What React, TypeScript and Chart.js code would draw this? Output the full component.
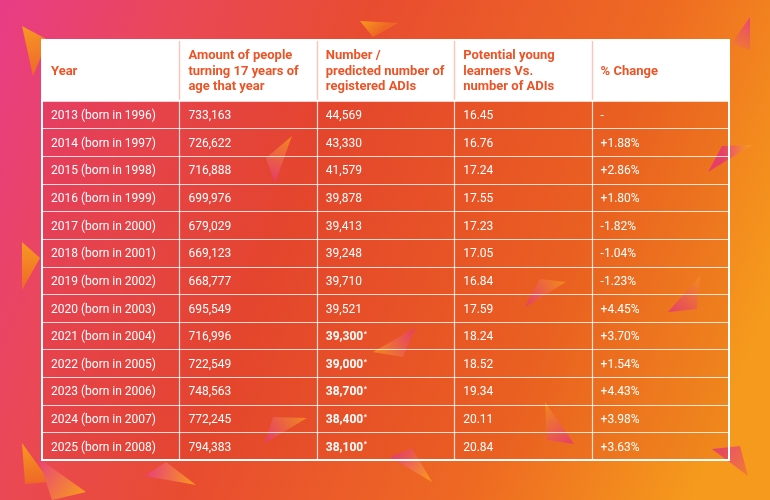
import React, { useEffect, useRef } from "react";
import { Chart, registerables } from "chart.js";

Chart.register(...registerables);

// ---------- data ----------
const headers: string[][] = [
  ["Year"],
  ["Amount of people", "turning 17 years of", "age that year"],
  ["Number /", "predicted number of", "registered ADIs"],
  ["Potential young", "learners Vs.", "number of ADIs"],
  ["% Change"],
];

const years = [
  "2013 (born in 1996)",
  "2014 (born in 1997)",
  "2015 (born in 1998)",
  "2016 (born in 1999)",
  "2017 (born in 2000)",
  "2018 (born in 2001)",
  "2019 (born in 2002)",
  "2020 (born in 2003)",
  "2021 (born in 2004)",
  "2022 (born in 2005)",
  "2023 (born in 2006)",
  "2024 (born in 2007)",
  "2025 (born in 2008)",
];

const peopleTurning17 = [
  733163, 726622, 716888, 699976, 679029, 669123, 668777, 695549, 716996,
  722549, 748563, 772245, 794383,
];

const registeredADIs = [
  44569, 43330, 41579, 39878, 39413, 39248, 39710, 39521, 39300, 39000, 38700,
  38400, 38100,
];

const isPredicted = [
  false, false, false, false, false, false, false, false, true, true, true,
  true, true,
];

const learnersPerADI = [
  "16.45", "16.76", "17.24", "17.55", "17.23", "17.05", "16.84", "17.59",
  "18.24", "18.52", "19.34", "20.11", "20.84",
];

const percentChange: (number | null)[] = [
  null, 1.88, 2.86, 1.8, -1.82, -1.04, -1.23, 4.45, 3.7, 1.54, 4.43, 3.98, 3.63,
];

// ---------- decoration (background triangles, not data) ----------
type Tri = { p: number[][]; c1: string; c2: string };
const decoTriangles: Tri[] = [
  { p: [[22, 26], [48, 40], [33, 76]], c1: "#f9a11b", c2: "#ef6a24" },
  { p: [[360, 21], [398, 23], [373, 37]], c1: "#f9a11b", c2: "#ef6a24" },
  { p: [[750, 17], [750, 50], [731, 44]], c1: "#e8407f", c2: "#f07a30" },
  { p: [[292, 136], [266, 158], [275, 183]], c1: "#f9a11b", c2: "#e8407f" },
  { p: [[752, 145], [708, 172], [722, 146]], c1: "#f9a11b", c2: "#e8407f" },
  { p: [[22, 242], [40, 258], [22, 290]], c1: "#f9a11b", c2: "#ef6a24" },
  { p: [[566, 282], [540, 279], [525, 307]], c1: "#f9a11b", c2: "#e8407f" },
  { p: [[700, 276], [697, 309], [668, 312]], c1: "#f9a11b", c2: "#e8407f" },
  { p: [[415, 328], [403, 357], [373, 352]], c1: "#e8407f", c2: "#f9a11b" },
  { p: [[307, 418], [273, 417], [265, 443]], c1: "#f9a11b", c2: "#e8407f" },
  { p: [[545, 402], [547, 440], [574, 444]], c1: "#f9a11b", c2: "#e8407f" },
  { p: [[712, 449], [740, 446], [748, 476]], c1: "#e8407f", c2: "#f07a30" },
  { p: [[22, 443], [50, 482], [25, 484]], c1: "#f9a11b", c2: "#ef6a24" },
  { p: [[38, 458], [52, 500], [86, 492]], c1: "#e8407f", c2: "#f9a11b" },
  { p: [[145, 476], [166, 462], [196, 485]], c1: "#e8407f", c2: "#f9a11b" },
  { p: [[390, 457], [412, 448], [432, 482]], c1: "#e8407f", c2: "#f9a11b" },
];

// ---------- layout constants ----------
const HEADER_TOP = -2.2;
const ROWS = years.length;
const COLS = headers.length;
const PAD_X = 9;
const FONT = "Roboto, 'Noto Sans', sans-serif";
const HEADER_COLOR = "#ee5326";

const fmtInt = (v: number) => v.toLocaleString("en-US");
const fmtPct = (v: number | null) =>
  v === null ? "-" : (v > 0 ? "+" : "") + v.toFixed(2) + "%";

const columnTexts: string[][] = [
  years,
  peopleTurning17.map(fmtInt),
  registeredADIs.map(fmtInt),
  learnersPerADI,
  percentChange.map(fmtPct),
];

const tablePlugin = {
  id: "tablePlugin",
  beforeDraw(chart: any) {
    const { ctx, width, height } = chart;
    ctx.save();
    const g = ctx.createLinearGradient(0, 0, width, height * 0.6);
    g.addColorStop(0, "#e83c86");
    g.addColorStop(0.2, "#ea4858");
    g.addColorStop(0.42, "#e84c30");
    g.addColorStop(0.75, "#ee6a22");
    g.addColorStop(1, "#f59a1c");
    ctx.fillStyle = g;
    ctx.fillRect(0, 0, width, height);
    for (const t of decoTriangles) {
      const [a, b, c] = t.p;
      const tg = ctx.createLinearGradient(a[0], a[1], c[0], c[1]);
      tg.addColorStop(0, t.c1);
      tg.addColorStop(1, t.c2);
      ctx.globalAlpha = 0.92;
      ctx.fillStyle = tg;
      ctx.beginPath();
      ctx.moveTo(a[0], a[1]);
      ctx.lineTo(b[0], b[1]);
      ctx.lineTo(c[0], c[1]);
      ctx.closePath();
      ctx.fill();
    }
    ctx.restore();
  },
  beforeDatasetsDraw(chart: any) {
    const { ctx } = chart;
    const xs = chart.scales.x;
    const ys = chart.scales.y;
    const L = xs.getPixelForValue(0);
    const R = xs.getPixelForValue(COLS);
    const T = ys.getPixelForValue(HEADER_TOP);
    const H = ys.getPixelForValue(0);
    const B = ys.getPixelForValue(ROWS);
    ctx.save();
    // body tint
    ctx.fillStyle = "rgba(210,35,30,0.16)";
    ctx.fillRect(L, H, R - L, B - H);
    // header
    ctx.fillStyle = "#ffffff";
    ctx.fillRect(L, T, R - L, H - T);
    // vertical lines
    for (let c = 1; c < COLS; c++) {
      const px = Math.round(xs.getPixelForValue(c)) + 0.5;
      ctx.strokeStyle = "rgba(240,130,100,0.45)";
      ctx.lineWidth = 1.5;
      ctx.beginPath();
      ctx.moveTo(px, T);
      ctx.lineTo(px, H);
      ctx.stroke();
      ctx.strokeStyle = "rgba(255,255,255,0.8)";
      ctx.lineWidth = 1.2;
      ctx.beginPath();
      ctx.moveTo(px, H);
      ctx.lineTo(px, B);
      ctx.stroke();
    }
    // horizontal lines
    for (let r = 1; r < ROWS; r++) {
      const py = Math.round(ys.getPixelForValue(r)) + 0.5;
      ctx.strokeStyle = "rgba(255,255,255,0.8)";
      ctx.lineWidth = 1.2;
      ctx.beginPath();
      ctx.moveTo(L, py);
      ctx.lineTo(R, py);
      ctx.stroke();
    }
    // outer border
    ctx.strokeStyle = "#ffffff";
    ctx.lineWidth = 2;
    ctx.strokeRect(L, T, R - L, B - T);
    ctx.beginPath();
    ctx.moveTo(L, H);
    ctx.lineTo(R, H);
    ctx.stroke();
    ctx.restore();
  },
  afterDatasetsDraw(chart: any) {
    const { ctx } = chart;
    const xs = chart.scales.x;
    const ys = chart.scales.y;
    ctx.save();
    ctx.textBaseline = "middle";
    ctx.textAlign = "left";
    // header
    ctx.fillStyle = HEADER_COLOR;
    ctx.font = `bold 13px ${FONT}`;
    const hc = ys.getPixelForValue(HEADER_TOP / 2) + 1;
    headers.forEach((lines, c) => {
      const x0 = xs.getPixelForValue(c) + PAD_X;
      lines.forEach((ln, k) => {
        const y = hc + (k - (lines.length - 1) / 2) * 15.8;
        ctx.fillText(ln, x0, y);
      });
    });
    // body
    ctx.fillStyle = "#ffffff";
    chart.data.datasets.forEach((ds: any, c: number) => {
      const meta = chart.getDatasetMeta(c);
      meta.data.forEach((pt: any, r: number) => {
        const txt = columnTexts[c][r];
        const bold = c === 2 && isPredicted[r];
        ctx.font = `${bold ? "bold " : ""}12px ${FONT}`;
        const x = pt.x + PAD_X;
        const y = pt.y + 1.5;
        ctx.fillText(txt, x, y);
        if (bold) {
          const w = ctx.measureText(txt).width;
          ctx.font = `bold 7px ${FONT}`;
          ctx.fillText("*", x + w + 0.5, y - 3);
        }
      });
    });
    ctx.restore();
  },
};

export default function App() {
  const ref = useRef<HTMLCanvasElement | null>(null);
  useEffect(() => {
    if (!ref.current) return;
    const datasets = columnTexts.map((col, c) => ({
      label: headers[c].join(" "),
      data: col.map((_, r) => ({ x: c, y: r + 0.5 })),
      pointRadius: 0,
      pointHoverRadius: 0,
      showLine: false,
    }));
    const chart = new Chart(ref.current, {
      type: "scatter",
      data: { datasets },
      options: {
        animation: false,
        responsive: false,
        devicePixelRatio: 1,
        events: [],
        layout: { padding: { left: 42, right: 41, top: 40, bottom: 40 } },
        plugins: { legend: { display: false }, tooltip: { enabled: false } },
        scales: {
          x: { type: "linear", min: 0, max: COLS, display: false },
          y: {
            type: "linear",
            min: HEADER_TOP,
            max: ROWS,
            reverse: true,
            display: false,
          },
        },
      },
      plugins: [tablePlugin],
    });
    return () => chart.destroy();
  }, []);
  return (
    <div style={{ position: "fixed", left: 0, top: 0, width: 770, height: 500 }}>
      <canvas ref={ref} width={770} height={500} />
    </div>
  );
}
